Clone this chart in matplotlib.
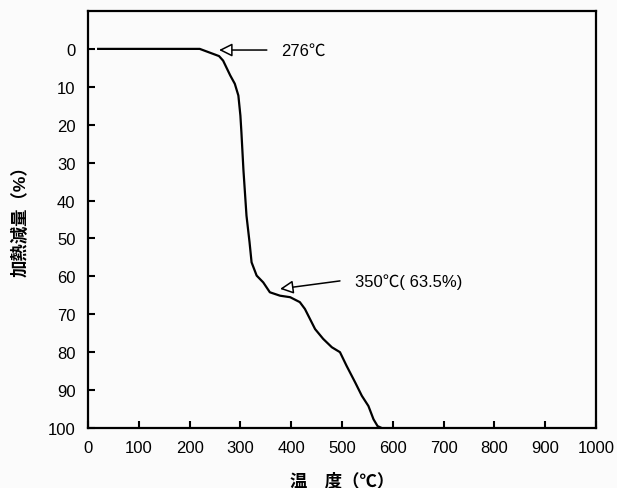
import matplotlib.pyplot as plt

plt.rcParams['font.family'] = ['Liberation Sans', 'Noto Sans CJK JP', 'DejaVu Sans']

# TG曲線（温度 ℃ / 加熱減量 %）
temperature = [20, 220, 232, 246, 258, 266, 280, 289, 296, 300, 302, 306, 312,
               318, 322, 332, 345, 358, 378, 398, 417, 427, 447, 463, 480, 496,
               509, 526, 539, 552, 562, 570, 578]
weight_loss = [0, 0, 0.6, 1.3, 1.9, 3.1, 7.0, 9.2, 12.3, 17.6, 22, 32, 44,
               51, 56.3, 59.8, 61.6, 64.2, 65.1, 65.5, 66.8, 68.6, 73.9, 76.5,
               78.7, 80, 83.6, 88, 91.5, 94.2, 97.7, 99.5, 100]

x_ticks = [0, 100, 200, 300, 400, 500, 600, 700, 800, 900, 1000]
y_ticks = [0, 10, 20, 30, 40, 50, 60, 70, 80, 90, 100]

onset_label = '276℃'
onset_point = (258, 0.3)
plateau_label = '350℃( 63.5%)'
plateau_point = (378, 63.3)

fig = plt.figure(figsize=(6.17, 4.89), dpi=100, facecolor='#fbfbfb')
ax = fig.add_axes([0.1426, 0.1227, 0.8234, 0.8528])
ax.set_facecolor('#fbfbfb')

ax.plot(temperature, weight_loss, color='black', linewidth=1.6)

ax.set_xlim(0, 1000)
ax.set_ylim(100, -10)
ax.set_xticks(x_ticks)
ax.set_yticks(y_ticks)
ax.tick_params(direction='in', length=5, width=1.5, labelsize=12,
               top=False, right=False, pad=9)
for s in ax.spines.values():
    s.set_linewidth(1.6)

# 矢印（白抜きの三角）
arrow = dict(arrowstyle='-|>', fc='white', ec='black', lw=1.1,
             mutation_scale=20, shrinkA=0, shrinkB=0)
ax.annotate('', xy=onset_point, xytext=(352, 0.3), arrowprops=arrow)
ax.text(381, 0.3, onset_label, fontsize=12, va='center', ha='left')
ax.annotate('', xy=plateau_point, xytext=(496, 61.2), arrowprops=arrow)
ax.text(526, 61.3, plateau_label, fontsize=12, va='center', ha='left')

ax.set_xlabel('温　度（℃）', fontsize=12.5, fontweight='bold')
ax.set_ylabel('加熱減量（%）', fontsize=12.5, fontweight='bold')
ax.xaxis.label.set_verticalalignment('center')
ax.yaxis.label.set_verticalalignment('center')
ax.xaxis.set_label_coords(0.5, -0.125)
ax.yaxis.set_label_coords(-0.134, 0.507)

fig.savefig('out.png', dpi=100, facecolor=fig.get_facecolor())
